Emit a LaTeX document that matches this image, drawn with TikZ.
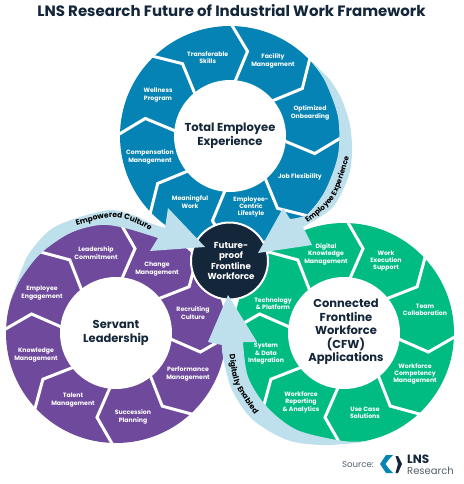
\documentclass[tikz,border=0pt]{standalone}
\usepackage{fontspec}
\setmainfont{Poppins}
\usetikzlibrary{decorations.text}
\definecolor{wblue}{HTML}{0583B4}
\definecolor{wpurple}{HTML}{6F4A9C}
\definecolor{wgreen}{HTML}{00BC82}
\definecolor{swoosh}{HTML}{BEE0EC}
\definecolor{inkdark}{HTML}{14263A}
\definecolor{inkgray}{HTML}{55606B}
\tikzset{
  x=1pt,y=-1pt,
  seglabel/.style={text=white,font=\fontsize{6.2}{7.4}\selectfont\bfseries,align=center,inner sep=0pt},
  biglabel/.style={text=inkdark,font=\fontsize{11.5}{14}\selectfont\bfseries,align=center,inner sep=0pt},
  sepline/.style={white,line width=3pt,miter limit=10},
  swooshfill/.style={fill=swoosh},
}
% wheel: centre x, centre y, colour, rotation
\newcommand{\wheelshape}[4]{%
  \begin{scope}[shift={(#1,#2)}]
    \fill[#3] (0,0) circle[radius=110];
    \foreach \k in {0,...,7}{
      \pgfmathsetmacro{\a}{45*\k+#4-90}
      \draw[sepline] ({\a}:114) -- ({\a+11.7}:86.5) -- ({\a+3.5}:50);
    }
    \fill[white] (0,0) circle[radius=56];
  \end{scope}}
\begin{document}
\begin{tikzpicture}
\useasboundingbox (0,0) rectangle (463,484);
\fill[white] (0,0) rectangle (463,484);

\node[text=inkdark,font=\fontsize{15}{17}\selectfont\bfseries,inner sep=0pt] (title) at (231.5,11) {LNS Research Future of Industrial Work Framework};

\wheelshape{230}{136}{wblue}{0}
\wheelshape{116}{333}{wpurple}{1}
\wheelshape{344}{333}{wgreen}{1}

% hub
\fill[inkdark,draw=white,line width=2pt] (229.5,261) circle[radius=38.5];

% swooshes
\fill[swooshfill] (312,62) -- plot[smooth] coordinates {(312,62) (330,80) (342,100) (350,125) (352,150) (349,175) (333,207) (303,227)}
  -- (312,245) -- (258,253) -- (283,208) -- (290,219)
  -- plot[smooth] coordinates {(290,219) (308,214) (325,191) (338,155) (338,117) (325,81) (312,62)} -- cycle;
\fill[swooshfill] (12,298) -- plot[smooth] coordinates {(12,298) (27,257) (50,230) (77,218) (110,210) (133,215) (150,223) (165,228)}
  -- (168,208) -- (205,247) -- (150,251) -- (158,238)
  -- plot[smooth] coordinates {(158,238) (125,228) (100,225) (70,233) (40,254) (20,280) (12,298)} -- cycle;
\fill[swooshfill] (370,441) -- plot[smooth] coordinates {(370,441) (350,443.5) (320,445) (287,440) (253,420) (232,390) (223,357) (222,345)}
  -- (208,342) -- (228,295) -- (257,342) -- (243,342)
  -- plot[smooth] coordinates {(243,342) (248,377) (267,407) (297,430) (343,441) (370,441)} -- cycle;

% swoosh captions
\path[decorate,decoration={text along path,text align=center,
  text={|\fontsize{7.3}{8}\selectfont\bfseries\color{black}|Employee Experience}}]
  (305,225) .. controls (336.5,200.5) .. (350,154);
\path[decorate,decoration={text along path,text align=center,
  text={|\fontsize{7.6}{8}\selectfont\bfseries\color{black}|Empowered Culture}}]
  (75,226) .. controls (116.5,213.5) .. (152,231);
\path[decorate,decoration={text along path,text align=center,
  text={|\fontsize{7.6}{8}\selectfont\bfseries\color{black}|Digitally Enabled}}]
  (229.5,354) .. controls (232.75,383.5) .. (255,415);

% hub and wheel titles
\node[text=white,font=\fontsize{8.7}{10.4}\selectfont\bfseries,align=center,inner sep=0pt] (hub) at (231,261) {Future-\\proof\\Frontline\\Workforce};
\node[biglabel] (tee) at (230,136) {Total Employee\\Experience};
\node[biglabel] (sl) at (116,333) {Servant\\Leadership};
\node[biglabel,font=\fontsize{11.5}{13.4}\selectfont\bfseries] (cfw) at (346,332) {Connected\\Frontline\\Workforce\\(CFW)\\Applications};

% blue labels
\node[seglabel] (b1) at (207.7,57.3) {Transferable\\Skills};
\node[seglabel] (b2) at (273,61) {Facility\\Management};
\node[seglabel] (b3) at (310,113) {Optimized\\Onboarding};
\node[seglabel] (b4) at (300,177) {Job Flexibility};
\node[seglabel] (b5) at (251,207) {Employee-\\Centric\\Lifestyle};
\node[seglabel] (b6) at (190,202) {Meaningful\\Work};
\node[seglabel] (b7) at (150,157) {Compensation\\Management};
\node[seglabel] (b8) at (158,95) {Wellness\\Program};
% purple labels
\node[seglabel] (p1) at (96,253) {Leadership\\Commitment};
\node[seglabel] (p2) at (157,269) {Change\\Management};
\node[seglabel] (p3) at (193,313) {Recruiting\\Culture};
\node[seglabel] (p4) at (188,374) {Performance\\Management};
\node[seglabel] (p5) at (133,417) {Succession\\Planning};
\node[seglabel] (p6) at (73,400) {Talent\\Management};
\node[seglabel] (p7) at (36,355) {Knowledge\\Management};
\node[seglabel] (p8) at (42,293) {Employee\\Engagement};
% green labels
\node[seglabel] (g1) at (326,254) {Digital\\Knowledge\\Management};
\node[seglabel] (g2) at (386,261) {Work\\Execution\\Support};
\node[seglabel] (g3) at (425,310) {Team\\Collaboration};
\node[seglabel] (g4) at (415,374) {Workforce\\Competency\\Management};
\node[seglabel] (g5) at (365,413) {Use Case\\Solutions};
\node[seglabel] (g6) at (301,402) {Workforce\\Reporting\\\& Analytics};
\node[seglabel] (g7) at (266,354) {System\\\& Data\\Integration};
\node[seglabel] (g8) at (273,304) {Technology\\\& Platform};

% source
\node[text=inkgray,font=\fontsize{8.6}{9}\selectfont,inner sep=0pt] (src) at (358,464) {Source:};
\fill[wblue] (386,455) -- (393,455) -- (389.5,458.5) -- (385.5,464) -- (389.5,469.5) -- (393,473) -- (386,473) -- (380,464) -- cycle;
\fill[inkdark] (395.5,456) -- (398,456) -- (402,464) -- (398,473) -- (395.5,473) -- (398,464) -- cycle;
\node[text=inkdark,font=\fontsize{12}{12}\selectfont\bfseries,inner sep=0pt,anchor=west] (lns) at (407,459) {LNS};
\node[text=inkgray,font=\fontsize{10}{10}\selectfont,inner sep=0pt,anchor=west] (res) at (407,471) {Research};
\end{tikzpicture}
\end{document}
